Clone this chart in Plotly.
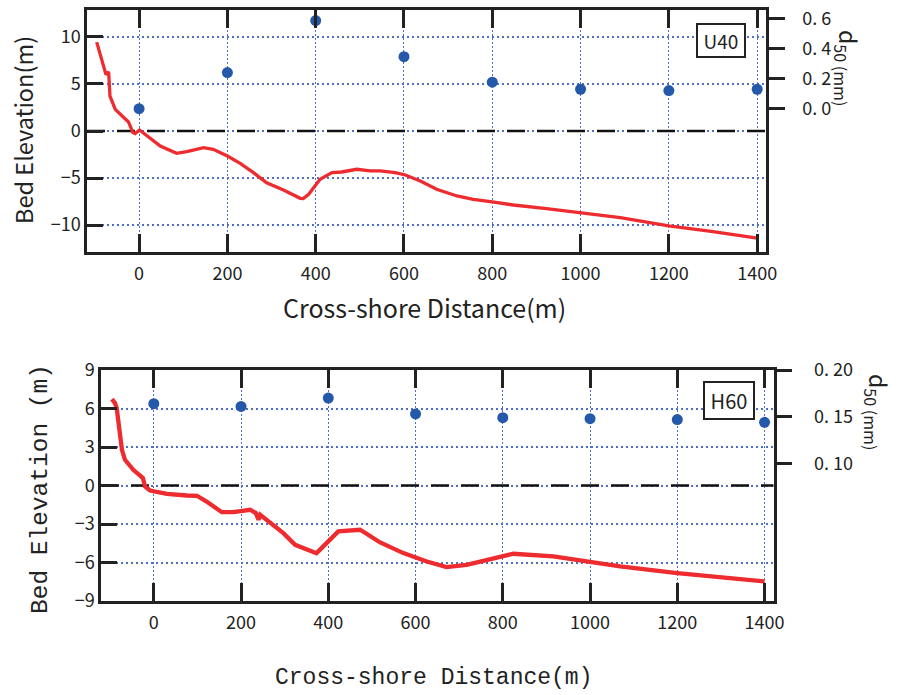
import plotly.graph_objects as go

W, H = 903, 695

# ---------------- data ----------------
# Top panel (U40)
u40_x = [-96, -75, -69, -66, -54, -39, -24, -14, -9, 1, 17, 48, 85, 108, 146, 168, 200, 229,
         259, 289, 327, 346, 365, 372, 384, 410, 437, 459, 493, 523, 546, 580, 603, 637, 674,
         720, 757, 800, 848, 923, 1001, 1090, 1200, 1300, 1400]
u40_z = [9.45, 6.0, 6.3, 3.7, 2.3, 1.6, 0.96, -0.17, -0.28, 0.1, -0.5, -1.6, -2.37, -2.2, -1.77,
         -1.95, -2.66, -3.44, -4.43, -5.5, -6.27, -6.73, -7.16, -7.19, -6.73, -5.14, -4.43, -4.36,
         -4.07, -4.25, -4.25, -4.43, -4.68, -5.32, -6.2, -6.91, -7.27, -7.55, -7.87, -8.26, -8.68,
         -9.21, -10.1, -10.7, -11.4]
u40_d50_x = [0, 200, 400, 600, 800, 1000, 1200, 1400]
u40_d50 = [0.0, 0.24, 0.585, 0.345, 0.176, 0.129, 0.12, 0.129]

# Bottom panel (H60)
h60_x = [-96, -89, -85, -79, -73, -66, -47, -25, -20, -8.5, 7, 30, 76, 99, 121, 156, 182, 221,
         234, 240, 244, 259, 297, 324, 373, 423, 473, 519, 572, 626, 671, 717, 771, 824, 916,
         1000, 1069, 1200, 1300, 1400]
h60_z = [6.73, 6.42, 6.03, 4.34, 2.78, 2.0, 1.22, 0.58, -0.08, -0.39, -0.47, -0.65, -0.78, -0.8,
         -1.25, -2.08, -2.08, -1.89, -2.15, -2.67, -2.28, -2.67, -3.71, -4.62, -5.27, -3.58,
         -3.45, -4.44, -5.27, -5.92, -6.36, -6.18, -5.74, -5.32, -5.53, -5.97, -6.31, -6.83,
         -7.15, -7.48]
h60_d50_x = [0, 200, 400, 600, 800, 1000, 1200, 1400]
h60_d50 = [0.164, 0.161, 0.170, 0.153, 0.149, 0.148, 0.147, 0.144]

x_ticks = [0, 200, 400, 600, 800, 1000, 1200, 1400]
top_y_ticks = [-10, -5, 0, 5, 10]
top_r_ticks = [0.0, 0.2, 0.4, 0.6]
top_r_text = ["0. 0", "0. 2", "0. 4", "0. 6"]
bot_y_ticks = [-9, -6, -3, 0, 3, 6, 9]
bot_r_ticks = [0.10, 0.15, 0.20]
bot_r_text = ["0. 10", "0. 15", "0. 20"]

# axis ranges (layout)
TOP_XR = [-118, 1420]
BOT_XR = [-121, 1421]

RED = "#ee2b2f"
BLUE = "#2458a8"
GRID = "#4f6fc8"
FONT = "Noto Sans CJK JP"
MONO = "Liberation Mono"


def px(x):
    return x / W


def py(y):
    return 1 - y / H


fig = go.Figure()

fig.add_trace(go.Scatter(x=u40_x, y=u40_z, mode="lines", line=dict(color=RED, width=3.3),
                         xaxis="x", yaxis="y", showlegend=False))
fig.add_trace(go.Scatter(x=u40_d50_x, y=u40_d50, mode="markers",
                         marker=dict(color=BLUE, size=11), xaxis="x", yaxis="y2", showlegend=False))
fig.add_trace(go.Scatter(x=h60_x, y=h60_z, mode="lines", line=dict(color=RED, width=4.3),
                         xaxis="x2", yaxis="y3", showlegend=False))
fig.add_trace(go.Scatter(x=h60_d50_x, y=h60_d50, mode="markers",
                         marker=dict(color=BLUE, size=11), xaxis="x2", yaxis="y4", showlegend=False))

tickfont = dict(family=FONT, size=18, color="#222")
common_x = dict(tickvals=x_ticks, ticks="inside", ticklen=18, tickwidth=2.5, tickcolor="#222",
                showline=True, linecolor="#222", linewidth=2.5, mirror="ticks",
                showgrid=True, gridcolor=GRID, gridwidth=1, griddash="2px,2px",
                zeroline=False, tickfont=tickfont, ticklabelstandoff=4, automargin=False)
common_y = dict(ticks="inside", ticklen=16, tickwidth=2.5, tickcolor="#222",
                showline=True, linecolor="#222", linewidth=2.5, mirror=True,
                showgrid=True, gridcolor=GRID, gridwidth=2, griddash="2px,3px",
                zeroline=False, tickfont=tickfont, automargin=False)
common_r = dict(ticks="outside", ticklen=16, tickwidth=2.5, tickcolor="#222",
                showline=True, linecolor="#222", linewidth=2.5, showgrid=False, zeroline=False,
                tickfont=tickfont, side="right", automargin=False)

fig.update_layout(
    width=W, height=H, margin=dict(l=0, r=0, t=0, b=0, autoexpand=False),
    paper_bgcolor="white", plot_bgcolor="white",
    xaxis=dict(domain=[px(87), px(766)], range=TOP_XR, anchor="y", **common_x),
    yaxis=dict(domain=[py(252), py(10)], range=[-12.87, 12.87], tickvals=top_y_ticks,
               anchor="x", **common_y),
    yaxis2=dict(overlaying="y", anchor="x", range=[-0.951, 0.655], tickvals=top_r_ticks,
                ticktext=top_r_text, ticklabelstandoff=14, **common_r),
    xaxis2=dict(domain=[px(101), px(773.7)], range=BOT_XR, anchor="y3", **common_x),
    yaxis3=dict(domain=[py(601), py(370)], range=[-9, 9], tickvals=bot_y_ticks,
                anchor="x2", **common_y),
    yaxis4=dict(overlaying="y3", anchor="x2", range=[-0.047, 0.20], tickvals=bot_r_ticks,
                ticktext=bot_r_text, ticklabelstandoff=18, **common_r),
)

# zero reference lines (black dashed)
for xr, yr, rng in (("x", "y", TOP_XR), ("x2", "y3", BOT_XR)):
    fig.add_shape(type="line", xref=xr, yref=yr, x0=rng[0], x1=rng[1], y0=0, y1=0,
                  line=dict(color="#111", width=2.5, dash="18px,12px"), layer="between")

ann = []
# axis titles
ann.append(dict(text="Bed Elevation(m)", x=px(23), y=py(130), textangle=-90,
                font=dict(family=FONT, size=23.5, color="#222")))
ann.append(dict(text="Cross-shore Distance(m)", x=px(424), y=py(307),
                font=dict(family=FONT, size=25, color="#222")))
ann.append(dict(text="d<sub>50 (mm)</sub>", x=px(848), y=py(68), textangle=90,
                font=dict(family=FONT, size=23, color="#222")))
ann.append(dict(text="Bed Elevation (m)", x=px(40), y=py(489), textangle=-90,
                font=dict(family=MONO, size=24.5, color="#222")))
ann.append(dict(text="Cross-shore Distance(m)", x=px(433), y=py(678),
                font=dict(family=MONO, size=23, color="#222")))
ann.append(dict(text="d<sub>50 (mm)</sub>", x=px(878), y=py(412), textangle=90,
                font=dict(family=FONT, size=23, color="#222")))
# case labels
ann.append(dict(text="U40", x=px(721), y=py(41), width=46, height=31, borderpad=0,
                bordercolor="#222", borderwidth=2, bgcolor="white",
                font=dict(family=FONT, size=19, color="#222")))
ann.append(dict(text="H60", x=px(729.3), y=py(400.5), width=48, height=35, borderpad=0,
                bordercolor="#222", borderwidth=2, bgcolor="white",
                font=dict(family=FONT, size=20, color="#222")))
for a in ann:
    a.update(xref="paper", yref="paper", showarrow=False, xanchor="center", yanchor="middle")
fig.update_layout(annotations=ann)

fig.write_html("out.html")
